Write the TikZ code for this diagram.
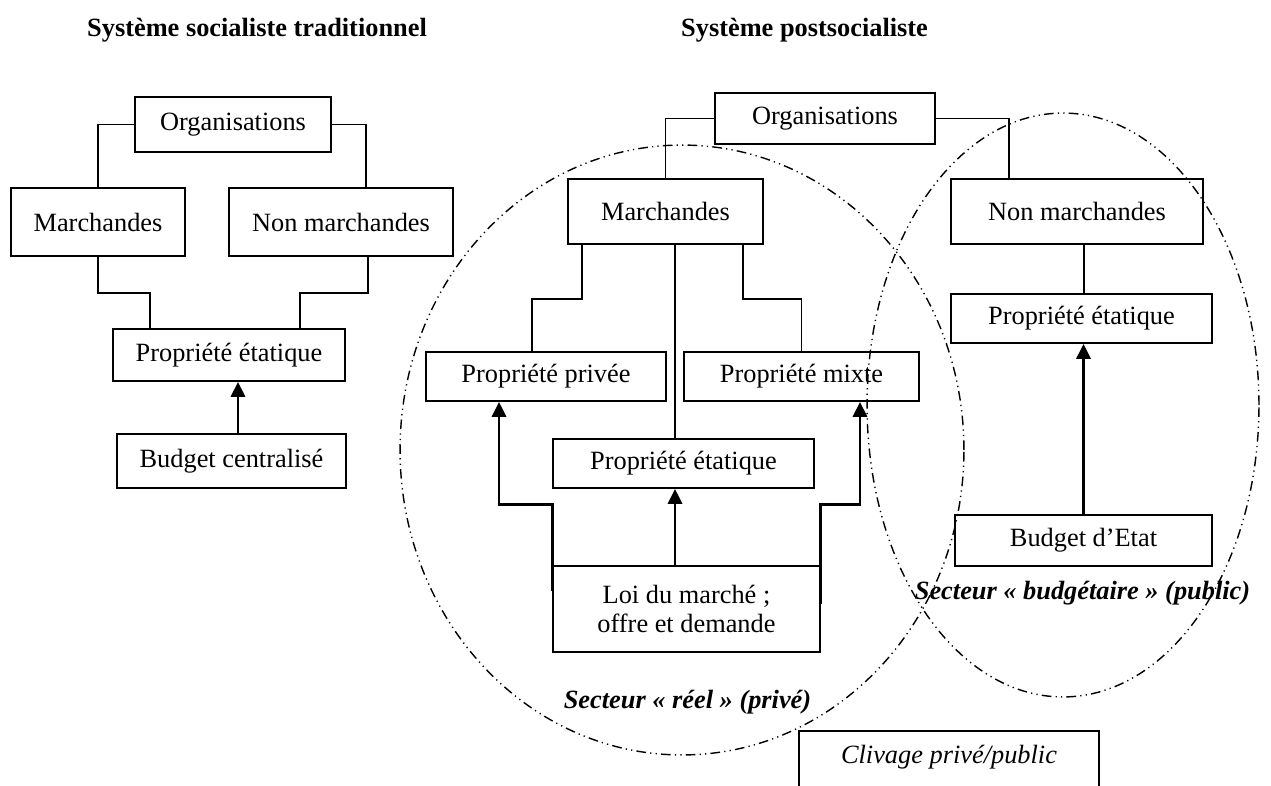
\documentclass[tikz,border=0pt]{standalone}
\usepackage{fontspec}
\setmainfont{Liberation Serif}
\usepackage{tikz}
\usetikzlibrary{arrows.meta,positioning,shapes}

\begin{document}
\begin{tikzpicture}[x=0.02cm, y=-0.02cm,
    font=\fontsize{15}{16}\selectfont,
    box/.style={draw, line width=1pt, inner sep=0pt, align=center},
    link/.style={line width=1pt},
    push/.style={-{Triangle[length=8.5pt, width=8pt]}, line width=1.6pt},
    sector/.style={line width=0.8pt, dash pattern=on 5.5pt off 2.4pt on 0.7pt off 2.4pt on 0.7pt off 2.4pt},
    secname/.style={font=\fontsize{15}{16}\selectfont\bfseries\itshape}]
    \clip (0,0) rectangle (1271,785);

    % titres
    \node[anchor=west, font=\fontsize{15}{16}\selectfont\bfseries] (titleL) at (81,30) {Système socialiste traditionnel};
    \node[anchor=west, font=\fontsize{15}{16}\selectfont\bfseries] (titleR) at (675,30) {Système postsocialiste};

    % systeme traditionnel
    \node[box, minimum width=3.92cm, minimum height=1.10cm] (orgL) at (233,124.5) {Organisations};
    \node[box, minimum width=3.48cm, minimum height=1.36cm] (marchL) at (98,222) {Marchandes};
    \node[box, minimum width=4.48cm, minimum height=1.36cm] (nonmarchL) at (341,222) {Non marchandes};
    \node[box, minimum width=4.64cm, minimum height=1.04cm] (etatL) at (229,355) {Propriété étatique};
    \node[box, minimum width=4.58cm, minimum height=1.08cm] (budgetL) at (231.5,461) {Budget centralisé};

    \draw[link] (orgL.west) -| (marchL.north);
    \draw[link] (orgL.east) -| ([xshift=0.5cm]nonmarchL.north);
    \draw[link] (marchL.south) -- ++(0,36) -| ([xshift=-1.58cm]etatL.north);
    \draw[link] ([xshift=0.54cm]nonmarchL.south) -- ++(0,36) -| ([xshift=1.42cm]etatL.north);
    \draw[push] ([xshift=0.13cm]budgetL.north) -- ([xshift=0.13cm]budgetL.north |- etatL.south);

    % systeme postsocialiste
    \node[box, minimum width=4.40cm, minimum height=1.02cm] (orgR) at (825,118.5) {Organisations};
    \node[box, minimum width=3.90cm, minimum height=1.30cm] (marchR) at (665.5,211.5) {Marchandes};
    \node[box, minimum width=5.04cm, minimum height=1.30cm] (nonmarchR) at (1077,211.5) {Non marchandes};
    \node[box, minimum width=4.80cm, minimum height=0.98cm] (priv) at (546,376.5) {Propriété privée};
    \node[box, minimum width=4.70cm, minimum height=0.98cm] (mixte) at (801.5,376.5) {Propriété mixte};
    \node[box, minimum width=5.22cm, minimum height=0.98cm] (etatM) at (683.5,463.5) {Propriété étatique};
    \node[box, minimum width=5.34cm, minimum height=1.72cm] (loi) at (686.5,609) {Loi du marché ;\\offre et demande};
    \node[box, minimum width=5.22cm, minimum height=0.98cm] (etatR) at (1081.5,318.5) {Propriété étatique};
    \node[box, minimum width=5.14cm, minimum height=1.02cm] (budgetR) at (1083.5,540.5) {Budget d’Etat};

    \draw[link] (orgR.west) -| (marchR.north);
    \draw[link] (orgR.east) -| ([xshift=-1.36cm]nonmarchR.north);
    \draw[link] ([xshift=-1.67cm]marchR.south) -- ++(0,54) -| ([xshift=-0.28cm]priv.north);
    \draw[link] ([xshift=0.19cm]marchR.south) -- ([xshift=0.19cm]marchR.south |- etatM.north);
    \draw[link] ([xshift=1.55cm]marchR.south) -- ++(0,54) -| (mixte.north);
    \draw[link] ([xshift=0.14cm]nonmarchR.south) -- ([xshift=0.14cm]nonmarchR.south |- etatR.north);

    \draw[push] ([yshift=-0.52cm]loi.north west) -- ++(0,-87) -| ([xshift=-0.94cm]priv.south);
    \draw[push] ([xshift=-0.23cm]loi.north) -- ([xshift=-0.23cm]loi.north |- etatM.south);
    \draw[push] ([yshift=-0.78cm]loi.north east) -- ++(0,-100) -| ([xshift=1.17cm]mixte.south);
    \draw[push] (budgetR.north) -- (budgetR.north |- etatR.south);

    % secteurs
    \draw[sector] (682,450) ellipse [x radius=5.64cm, y radius=6.1cm];
    \draw[sector] (1063,405) ellipse [x radius=3.92cm, y radius=5.84cm];
    \node[secname] (secReel) at (687.5,702) {Secteur « réel » (privé)};
    \node[secname] (secBudget) at (1082.5,593) {Secteur « budgétaire » (public)};

    % clivage
    \node[box, anchor=north, minimum width=6cm, minimum height=1.6cm] (cliv) at (949,730) {};
    \node[font=\fontsize{15}{16}\selectfont\itshape] (clivText) at (949,757) {Clivage privé/public};
\end{tikzpicture}
\end{document}
